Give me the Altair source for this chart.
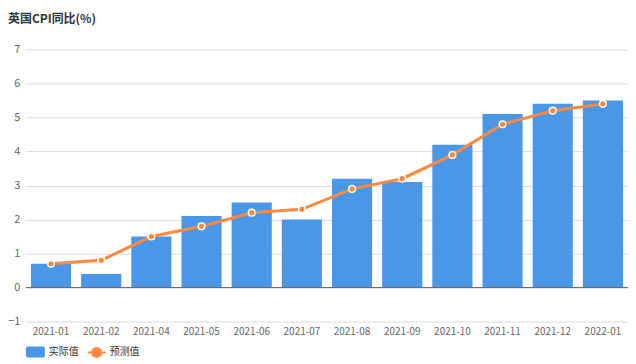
import altair as alt
import pandas as pd

months = ["2021-01", "2021-02", "2021-04", "2021-05", "2021-06", "2021-07",
          "2021-08", "2021-09", "2021-10", "2021-11", "2021-12", "2022-01"]
actual = [0.7, 0.4, 1.5, 2.1, 2.5, 2.0, 3.2, 3.1, 4.2, 5.1, 5.4, 5.5]
forecast = [0.7, 0.8, 1.5, 1.8, 2.2, 2.3, 2.9, 3.2, 3.9, 4.8, 5.2, 5.4]
y_ticks = [-1, 0, 1, 2, 3, 4, 5, 6, 7]

BLUE = "#4a97e8"
ORANGE = "#ff8a3d"
FONT = "Noto Sans CJK SC"

df = pd.DataFrame({"month": months, "actual": actual, "forecast": forecast,
                   "s1": "实际值", "s2": "预测值"})

x = alt.X("month:N", sort=months, title=None,
          scale=alt.Scale(paddingInner=0.2, paddingOuter=0.1),
          axis=alt.Axis(labelAngle=0, domain=False, ticks=False, labelPadding=5,
                        labelFontSize=10, labelColor="#666", labelFont=FONT))
yscale = alt.Scale(domain=[-1, 7], nice=False, zero=False)
yaxis = alt.Axis(values=y_ticks, domain=False, ticks=False, labelPadding=6,
                 labelOverlap=False, labelFontSize=11, labelColor="#666", labelFont=FONT,
                 gridColor="#dcdcdc", gridWidth=1)

rect_path = ("M-0.8,-0.58H0.8Q1,-0.58 1,-0.38V0.38Q1,0.58 0.8,0.58H-0.8"
             "Q-1,0.58 -1,0.38V-0.38Q-1,-0.58 -0.8,-0.58Z")
line_path = ("M-1,0H-0.5M0.5,0H1M-0.5,0A0.5,0.5 0 1,1 0.5,0A0.5,0.5 0 1,1 -0.5,0Z")

bars = alt.Chart(df).mark_bar(color=BLUE).encode(
    x=x,
    y=alt.Y("actual:Q", scale=yscale, axis=yaxis, title=None),
    color=alt.Color("s1:N", scale=alt.Scale(domain=["实际值"], range=[BLUE]),
                    legend=alt.Legend(title=None, orient="none", legendX=0, legendY=294,
                                      symbolType=rect_path, symbolSize=361,
                                      symbolStrokeWidth=0, symbolOpacity=1,
                                      labelFontSize=10, labelColor="#333",
                                      labelFont=FONT, padding=0, labelOffset=4)),
)

zero = alt.Chart(pd.DataFrame({"v": [0]})).mark_rule(color="#666", strokeWidth=1).encode(
    y=alt.Y("v:Q", scale=yscale, axis=yaxis, title=None)
)

line = alt.Chart(df).mark_line(color=ORANGE, strokeWidth=3).encode(
    x=x,
    y=alt.Y("forecast:Q", scale=yscale, axis=yaxis, title=None),
    stroke=alt.Stroke("s2:N", scale=alt.Scale(domain=["预测值"], range=[ORANGE]),
                      legend=alt.Legend(title=None, orient="none", legendX=61, legendY=294,
                                        symbolType=line_path, symbolSize=324,
                                        symbolFillColor=ORANGE, symbolStrokeWidth=2,
                                        labelFontSize=10, labelColor="#333",
                                        labelFont=FONT, padding=0, labelOffset=3)),
)

points = alt.Chart(df).mark_point(filled=True, fill=ORANGE, stroke="white",
                                  strokeWidth=1.5, size=45, opacity=1).encode(
    x=x,
    y=alt.Y("forecast:Q", scale=yscale, axis=yaxis, title=None),
)

chart = alt.layer(bars, zero, line, points).resolve_scale(
    color="independent", stroke="independent"
).properties(
    width=604, height=273,
    title=alt.TitleParams("英国CPI同比(%)", anchor="start", frame="group", dx=-18, offset=6,
                          baseline="bottom", fontSize=12, fontWeight="bold",
                          color="#333", font=FONT),
    autosize=alt.AutoSizeParams(type="none"),
    padding={"left": 18, "top": 41, "right": 0, "bottom": 42},
).configure_view(stroke=None)

chart.save("out.html", embed_options={"renderer": "svg", "actions": False})
